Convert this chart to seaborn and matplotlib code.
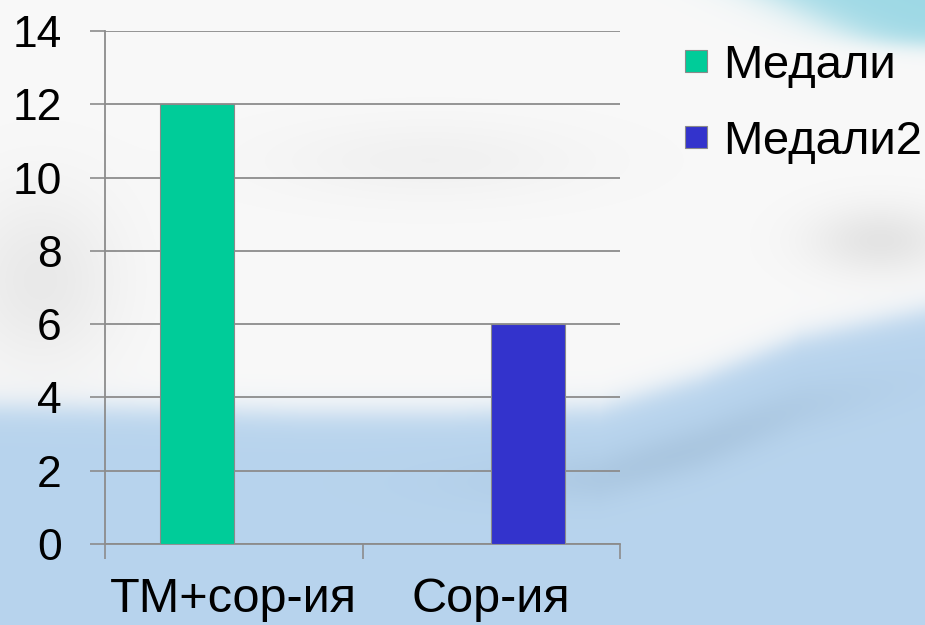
import numpy as np
import pandas as pd
import matplotlib
matplotlib.use("Agg")
import matplotlib.pyplot as plt
import seaborn as sns

categories = ["ТМ+сор-ия", "Сор-ия"]
series_names = ["Медали", "Медали2"]
medali = [12, None]
medali2 = [None, 6]
y_ticks = [0, 2, 4, 6, 8, 10, 12, 14]
colors = ["#00CC99", "#3333CC"]

rows = []
for cat, a, b in zip(categories, medali, medali2):
    if a is not None:
        rows.append({"cat": cat, "series": series_names[0], "value": a})
    if b is not None:
        rows.append({"cat": cat, "series": series_names[1], "value": b})
df = pd.DataFrame(rows)

sns.set_theme(style="white")
plt.rcParams["font.family"] = ["Liberation Sans", "DejaVu Sans"]
plt.rcParams["text.color"] = "black"

W, H = 925, 625
fig = plt.figure(figsize=(W / 100, H / 100), dpi=100)

# --- backdrop: pale waving flag, white above and light blue below ---
yy, xx = np.mgrid[0:H, 0:W].astype(float)
edge_x = [0, 150, 300, 450, 600, 700, 800, 925]
edge_y = [405, 408, 412, 412, 407, 377, 337, 310]
boundary = np.interp(xx[0], edge_x, edge_y)[None, :]
t = 1.0 / (1.0 + np.exp(-(yy - boundary) / 8.0))
white = np.array([0.975, 0.975, 0.975])
blue = np.array([0.72, 0.83, 0.93])
img = (1 - t)[..., None] * white + t[..., None] * blue
# soft grey folds in the white cloth
fold1 = np.exp(-(((xx - 40) / 80) ** 2 + ((yy - 280) / 90) ** 2))
fold2 = np.exp(-(((xx - 880) / 70) ** 2 + ((yy - 240) / 35) ** 2))
fold3 = np.exp(-(((xx - 430) / 160) ** 2 + ((yy - 160) / 40) ** 2))
shade = (0.06 * fold1 + 0.08 * fold2 + 0.03 * fold3) * (1 - t)
img = img - shade[..., None]
# shadow just under the wave edge
band = np.exp(-((yy - boundary - 70) / 25) ** 2) * np.exp(-((xx - 680) / 170) ** 2)
img = img - 0.05 * band[..., None]
# teal corner at the top right
corner = 1.0 / (1.0 + np.exp(-((xx - 790) / 25 - (yy - 5) / 12)))
corner *= 1.0 / (1.0 + np.exp((yy - 45) / 6))
teal = np.array([0.62, 0.85, 0.90])
img = img * (1 - corner[..., None]) + teal * corner[..., None]
img = np.clip(img, 0, 1)

bg = fig.add_axes([0, 0, 1, 1], zorder=-10)
bg.imshow(img, aspect="auto", interpolation="bilinear")
bg.axis("off")

ax = fig.add_axes([105 / W, 1 - 544 / H, (620 - 105) / W, (544 - 31) / H])
ax.set_facecolor("none")

sns.barplot(data=df, x="cat", y="value", hue="series", order=categories,
            hue_order=series_names, palette=colors, width=0.575, dodge=True,
            saturation=1, edgecolor="#8a8a8a", linewidth=0.8, ax=ax, zorder=3)

grid_color = "#8c8c8c"
ax.set_ylim(0, 14)
ax.set_xlim(-0.5, len(categories) - 0.5)
ax.set_yticks(y_ticks)
ax.set_yticklabels([str(v) for v in y_ticks])
ax.yaxis.grid(True, color=grid_color, linewidth=1.3, zorder=0)
ax.set_axisbelow(True)
ax.tick_params(axis="y", which="major", length=11, width=1.2, color=grid_color,
               direction="out", left=True, pad=20, labelsize=32, labelcolor="black")

ax.set_xticks(range(len(categories)))
ax.set_xticklabels(categories)
ax.tick_params(axis="x", which="major", length=0, pad=24, labelsize=35, labelcolor="black")
ax.set_xticks([i - 0.5 for i in range(len(categories) + 1)], minor=True)
ax.tick_params(axis="x", which="minor", length=11, width=1.2, color=grid_color,
               direction="out", bottom=True)

for side in ["top", "right"]:
    ax.spines[side].set_visible(False)
for side in ["left", "bottom"]:
    ax.spines[side].set_color(grid_color)
    ax.spines[side].set_linewidth(1.3)

ax.set_xlabel("")
ax.set_ylabel("")

handles, labels = ax.get_legend_handles_labels()
ax.legend(handles, labels, loc="upper left", bbox_to_anchor=(685 / W, 1 - 44 / H),
          bbox_transform=fig.transFigure, frameon=False, fontsize=34,
          labelcolor="black", handlelength=0.47, handleheight=0.35,
          handletextpad=0.34, labelspacing=0.67, borderaxespad=0, borderpad=0)

fig.savefig("out.png", dpi=100)
